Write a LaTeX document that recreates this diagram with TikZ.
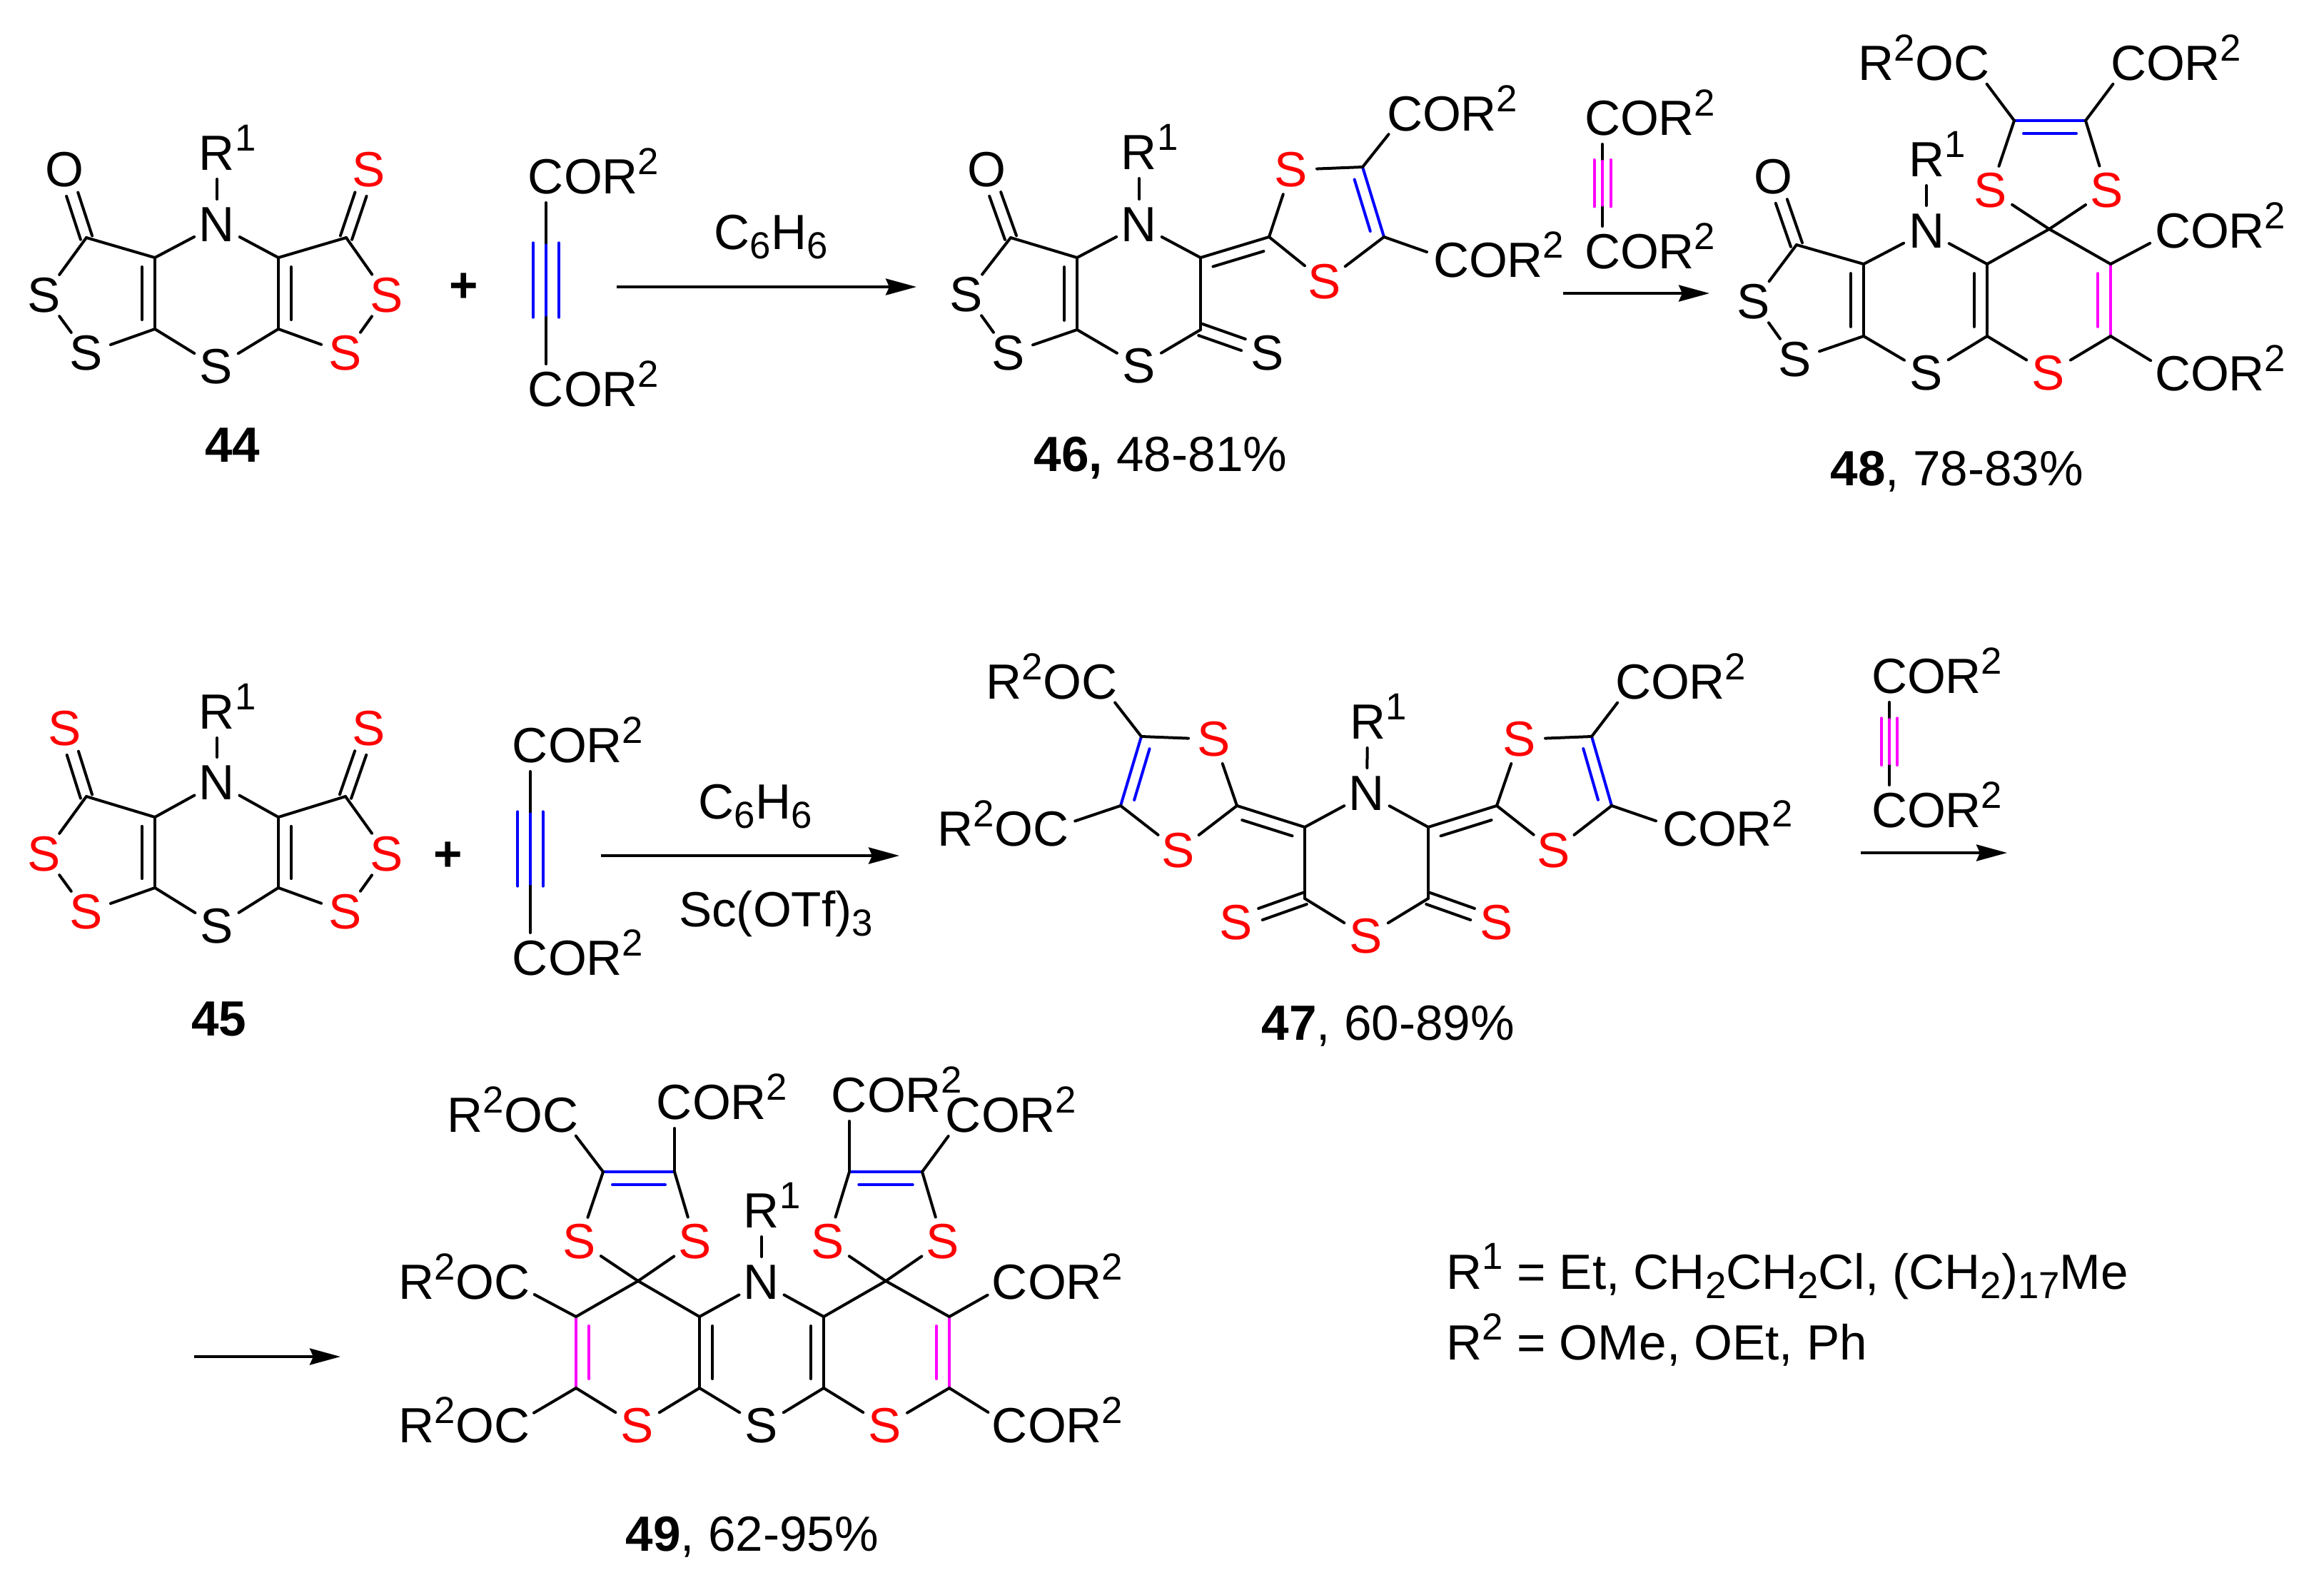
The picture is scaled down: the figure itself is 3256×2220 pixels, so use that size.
\documentclass[tikz,border=0pt]{standalone}
\usepackage{fontspec}
\setmainfont{Liberation Sans}
\usetikzlibrary{calc}
\usetikzlibrary{arrows.meta}
\definecolor{atomRed}{RGB}{255,0,0}
\definecolor{bondBlue}{RGB}{0,0,255}
\definecolor{bondMagenta}{RGB}{255,0,255}
\tikzstyle{scheme} = [x = .01cm, y = -.01cm, every node/.style={font=\fontsize{19.7}{23}\selectfont}]
\tikzstyle{atomText} = [circle, inner sep = 0pt, outer sep = 0pt, minimum size = .72cm]
\tikzstyle{redText} = [atomText, text=atomRed]
\tikzstyle{captionText} = [anchor = base, inner sep = 0pt]
\tikzstyle{sideText} = [anchor = base west, inner sep = 0pt]
\tikzstyle{bondLine} = [color=black, line width = .04cm, line cap = round]
\tikzstyle{blueBond} = [color=bondBlue, line width = .04cm, line cap = round]
\tikzstyle{magentaBond} = [color=bondMagenta, line width = .04cm, line cap = round]
\tikzstyle{reactionArrow} = [color=black, line width = .04cm, -{Stealth[length = .43cm, width = .23cm, inset = .05cm]}]
\newcommand{\sups}[1]{\smash{\raisebox{.4em}{\fontsize{15}{15}\selectfont #1}}}
\newcommand{\subs}[1]{\raisebox{-.2em}{\fontsize{15}{15}\selectfont #1}}
\newcommand{\carbon}[2]{\coordinate (#1) at (#2);}
\newcommand{\atom}[3]{\node [atomText] (#1) at (#2) {#3};}
\newcommand{\redAtom}[3]{\node [redText] (#1) at (#2) {#3};}
\newcommand{\rOne}[2]{\node [atomText] (#1) at (#2) {R\rlap{\sups{1}}};}
\newcommand{\cor}[2]{\node [atomText] (#1) at (#2) {C\rlap{OR\sups{2}}};}
\newcommand{\roc}[2]{\node [atomText] (#1) at (#2) {\llap{R\sups{2}O}C};}
\newcommand{\bond}[2]{\draw [bondLine] (#1) -- (#2);}
\newcommand{\doubleBond}[4]{
  \draw [#1] (#2) -- (#3);
  \draw [#1] ($(#2)!.13!(#3)!#4!90:(#3)$) -- ($(#3)!.13!(#2)!#4!-90:(#2)$);
}
\newcommand{\exoBond}[2]{
  \foreach \side in {.085cm,-.085cm} {
    \draw [bondLine] ($(#1)!\side!90:(#2)$) -- ($(#2)!.36cm!(#1)!\side!-90:(#1)$);
  }
}
\newcommand{\tripleBond}[4]{
  \draw [bondLine] (#2) -- (#3);
  \draw [#1] ($(#2)!.32!(#3)$) -- ($(#2)!.65!(#3)$);
  \foreach \side in {#4,-#4} {
    \draw [#1] ($(#2)!.31!(#3)!\side!90:(#3)$) -- ($(#2)!.66!(#3)!\side!90:(#3)$);
  }
}

\begin{document}
\begin{tikzpicture}[scheme]
  \useasboundingbox (0,0) rectangle (3256,2220);

  % 44
  \carbon{a44}{217,361} \carbon{b44}{217,461} \carbon{c44}{390,361}
  \carbon{d44}{390,461} \carbon{e44}{121,333} \carbon{f44}{485,333}
  \atom{o44}{90,238}{O}
  \redAtom{sTop44}{517,238}{S}
  \rOne{r44}{304,215}
  \atom{n44}{304,315}{N}
  \atom{sLeft44}{62,414}{S}
  \atom{sLow44}{121,495}{S}
  \atom{sBot44}{303,514}{S}
  \redAtom{sRight44}{542,414}{S}
  \redAtom{sRLow44}{484,495}{S}
  \doubleBond{bondLine}{a44}{b44}{-.18cm}
  \doubleBond{bondLine}{c44}{d44}{.18cm}
  \bond{r44}{n44} \bond{e44}{a44} \bond{a44}{n44} \bond{n44}{c44} \bond{c44}{f44}
  \bond{f44}{sRight44} \bond{sRight44}{sRLow44} \bond{sRLow44}{d44}
  \bond{d44}{sBot44} \bond{sBot44}{b44} \bond{b44}{sLow44}
  \bond{sLow44}{sLeft44} \bond{sLeft44}{e44}
  \exoBond{e44}{o44}
  \exoBond{f44}{sTop44}
  \node [captionText] (name44) at (326,647) {\textbf{44}};

  \node (plusTop) at (650,403) {\textbf{+}};
  \cor{corA}{765,248}
  \cor{corB}{765,546}
  \tripleBond{blueBond}{corA}{corB}{.18cm}

  \coordinate (arrowAStart) at (864,402);
  \coordinate (arrowAEnd) at (1284,402);
  \draw [reactionArrow] (arrowAStart) -- (arrowAEnd);
  \node [captionText] (solventA) at (1080,349) {C\subs{6}H\subs{6}};

  % 46
  \carbon{a46}{1509,361} \carbon{b46}{1509,462} \carbon{c46}{1682,361}
  \carbon{d46}{1682,462} \carbon{e46}{1416,333} \carbon{f46}{1778,332}
  \carbon{g46}{1909,234} \carbon{h46}{1939,332}
  \atom{o46}{1382,238}{O}
  \rOne{r46}{1596,214}
  \atom{n46}{1596,315}{N}
  \atom{sLeft46}{1354,413}{S}
  \atom{sLow46}{1413,495}{S}
  \atom{sBot46}{1596,513}{S}
  \atom{sExo46}{1776,495}{S}
  \redAtom{sUp46}{1809,238}{S}
  \redAtom{sDown46}{1856,395}{S}
  \cor{corTop46}{1968,160}
  \cor{corLow46}{2033,365}
  \doubleBond{bondLine}{a46}{b46}{-.18cm}
  \doubleBond{bondLine}{c46}{f46}{-.17cm}
  \doubleBond{blueBond}{g46}{h46}{-.16cm}
  \bond{r46}{n46} \bond{e46}{a46} \bond{a46}{n46} \bond{n46}{c46} \bond{c46}{d46}
  \bond{d46}{sBot46} \bond{sBot46}{b46} \bond{b46}{sLow46}
  \bond{sLow46}{sLeft46} \bond{sLeft46}{e46}
  \bond{f46}{sUp46} \bond{sUp46}{g46} \bond{h46}{sDown46} \bond{sDown46}{f46}
  \bond{g46}{corTop46} \bond{h46}{corLow46}
  \exoBond{e46}{o46}
  \exoBond{d46}{sExo46}
  \node [captionText] (name46) at (1626,660) {\textbf{46,} 48-81\%};

  \cor{corC}{2245,166}
  \cor{corD}{2245,353}
  \tripleBond{magentaBond}{corC}{corD}{.115cm}
  \coordinate (arrowBStart) at (2190,411);
  \coordinate (arrowBEnd) at (2395,411);
  \draw [reactionArrow] (arrowBStart) -- (arrowBEnd);

  % 48
  \carbon{a48}{2611,370} \carbon{b48}{2611,471} \carbon{c48}{2784,370}
  \carbon{d48}{2784,471} \carbon{e48}{2517,343} \carbon{h48}{2957,370}
  \carbon{i48}{2957,471} \carbon{j48}{2822,169} \carbon{k48}{2922,169}
  \carbon{spiro48}{2871,321}
  \atom{o48}{2484,248}{O}
  \rOne{r48}{2699,224}
  \atom{n48}{2699,324}{N}
  \atom{sLeft48}{2457,423}{S}
  \atom{sLow48}{2515,504}{S}
  \atom{sBot48}{2699,523}{S}
  \redAtom{sRed48}{2870,523}{S}
  \redAtom{sUl48}{2789,267}{S}
  \redAtom{sUr48}{2952,267}{S}
  \roc{rocTop48}{2762,89}
  \cor{corTop48}{2982,89}
  \cor{corUp48}{3044,324}
  \cor{corLow48}{3044,524}
  \doubleBond{bondLine}{a48}{b48}{-.18cm}
  \doubleBond{bondLine}{c48}{d48}{-.18cm}
  \doubleBond{magentaBond}{h48}{i48}{-.18cm}
  \doubleBond{blueBond}{j48}{k48}{-.18cm}
  \bond{r48}{n48} \bond{e48}{a48} \bond{a48}{n48} \bond{n48}{c48}
  \bond{c48}{spiro48} \bond{spiro48}{h48} \bond{i48}{sRed48} \bond{sRed48}{d48}
  \bond{d48}{sBot48} \bond{sBot48}{b48} \bond{b48}{sLow48}
  \bond{sLow48}{sLeft48} \bond{sLeft48}{e48}
  \bond{spiro48}{sUl48} \bond{spiro48}{sUr48} \bond{sUl48}{j48} \bond{sUr48}{k48}
  \bond{j48}{rocTop48} \bond{k48}{corTop48} \bond{h48}{corUp48} \bond{i48}{corLow48}
  \exoBond{e48}{o48}
  \node [captionText] (name48) at (2742,680) {\textbf{48}, 78-83\%};

  % 45
  \carbon{a45}{217,1145} \carbon{b45}{217,1244} \carbon{c45}{390,1145}
  \carbon{d45}{390,1244} \carbon{e45}{121,1116} \carbon{f45}{484,1116}
  \redAtom{sExoL45}{91,1021}{S}
  \redAtom{sExoR45}{517,1021}{S}
  \rOne{r45}{304,998}
  \atom{n45}{304,1097}{N}
  \redAtom{sLeft45}{62,1197}{S}
  \redAtom{sLow45}{121,1278}{S}
  \atom{sBot45}{304,1298}{S}
  \redAtom{sRight45}{542,1197}{S}
  \redAtom{sRLow45}{484,1278}{S}
  \doubleBond{bondLine}{a45}{b45}{-.18cm}
  \doubleBond{bondLine}{c45}{d45}{.18cm}
  \bond{r45}{n45} \bond{e45}{a45} \bond{a45}{n45} \bond{n45}{c45} \bond{c45}{f45}
  \bond{f45}{sRight45} \bond{sRight45}{sRLow45} \bond{sRLow45}{d45}
  \bond{d45}{sBot45} \bond{sBot45}{b45} \bond{b45}{sLow45}
  \bond{sLow45}{sLeft45} \bond{sLeft45}{e45}
  \exoBond{e45}{sExoL45}
  \exoBond{f45}{sExoR45}
  \node [captionText] (name45) at (307,1451) {\textbf{45}};

  \node (plusLow) at (628,1200) {\textbf{+}};
  \cor{corE}{743,1045}
  \cor{corF}{743,1343}
  \tripleBond{blueBond}{corE}{corF}{.175cm}

  \coordinate (arrowCStart) at (842,1199);
  \coordinate (arrowCEnd) at (1260,1199);
  \draw [reactionArrow] (arrowCStart) -- (arrowCEnd);
  \node [captionText] (solventB) at (1058,1147) {C\subs{6}H\subs{6}};
  \node [captionText] (catalyst) at (1087,1298) {Sc(OTf)\subs{3}};

  % 47
  \carbon{a47}{1828,1159} \carbon{b47}{1828,1259} \carbon{c47}{2001,1159}
  \carbon{d47}{2001,1259} \carbon{f47}{1733,1129} \carbon{g47}{1599,1032}
  \carbon{h47}{1570,1129} \carbon{p47}{2097,1129} \carbon{q47}{2230,1032}
  \carbon{t47}{2258,1129}
  \rOne{r47}{1916,1012}
  \atom{n47}{1915,1112}{N}
  \redAtom{sBot47}{1914,1312}{S}
  \redAtom{sExoL47}{1732,1293}{S}
  \redAtom{sExoR47}{2097,1293}{S}
  \redAtom{sUpL47}{1701,1036}{S}
  \redAtom{sDownL47}{1651,1192}{S}
  \redAtom{sUpR47}{2129,1036}{S}
  \redAtom{sDownR47}{2177,1192}{S}
  \roc{rocUp47}{1540,956}
  \roc{rocLow47}{1472,1162}
  \cor{corUp47}{2288,956}
  \cor{corLow47}{2354,1162}
  \doubleBond{bondLine}{a47}{f47}{.17cm}
  \doubleBond{bondLine}{c47}{p47}{-.17cm}
  \doubleBond{blueBond}{g47}{h47}{.16cm}
  \doubleBond{blueBond}{q47}{t47}{-.16cm}
  \bond{r47}{n47} \bond{a47}{n47} \bond{n47}{c47} \bond{a47}{b47} \bond{c47}{d47}
  \bond{b47}{sBot47} \bond{sBot47}{d47}
  \bond{f47}{sUpL47} \bond{sUpL47}{g47} \bond{h47}{sDownL47} \bond{sDownL47}{f47}
  \bond{p47}{sUpR47} \bond{sUpR47}{q47} \bond{t47}{sDownR47} \bond{sDownR47}{p47}
  \bond{g47}{rocUp47} \bond{h47}{rocLow47} \bond{q47}{corUp47} \bond{t47}{corLow47}
  \exoBond{b47}{sExoL47}
  \exoBond{d47}{sExoR47}
  \node [captionText] (name47) at (1945,1457) {\textbf{47}, 60-89\%};

  \cor{corG}{2647,948}
  \cor{corH}{2647,1136}
  \tripleBond{magentaBond}{corG}{corH}{.11cm}
  \coordinate (arrowDStart) at (2607,1195);
  \coordinate (arrowDEnd) at (2812,1195);
  \draw [reactionArrow] (arrowDStart) -- (arrowDEnd);

  \coordinate (arrowEStart) at (272,1901);
  \coordinate (arrowEEnd) at (477,1901);
  \draw [reactionArrow] (arrowEStart) -- (arrowEEnd);

  % 49
  \carbon{a49}{807,1845} \carbon{b49}{807,1945} \carbon{c49}{980,1845}
  \carbon{d49}{980,1945} \carbon{e49}{1154,1845} \carbon{f49}{1154,1945}
  \carbon{g49}{1330,1845} \carbon{h49}{1330,1945}
  \carbon{spiroL49}{894,1795} \carbon{spiroR49}{1241,1795}
  \carbon{p49}{845,1642} \carbon{q49}{945,1642} \carbon{u49}{1190,1642} \carbon{v49}{1292,1642}
  \rOne{r49}{1067,1697}
  \atom{n49}{1067,1797}{N}
  \redAtom{sBotL49}{893,1998}{S}
  \atom{sBot49}{1067,1998}{S}
  \redAtom{sBotR49}{1240,1998}{S}
  \redAtom{sUa49}{812,1740}{S}
  \redAtom{sUb49}{974,1740}{S}
  \redAtom{sUc49}{1160,1740}{S}
  \redAtom{sUd49}{1321,1740}{S}
  \roc{rocTop49}{785,1563}
  \cor{corTopL49}{945,1545}
  \cor{corTopR49}{1190,1535}
  \cor{corTopE49}{1350,1563}
  \roc{rocMid49}{717,1797}
  \roc{rocLow49}{717,1998}
  \cor{corMid49}{1415,1797}
  \cor{corLow49}{1415,1998}
  \doubleBond{magentaBond}{a49}{b49}{.18cm}
  \doubleBond{bondLine}{c49}{d49}{.18cm}
  \doubleBond{bondLine}{e49}{f49}{-.18cm}
  \doubleBond{magentaBond}{g49}{h49}{-.18cm}
  \doubleBond{blueBond}{p49}{q49}{-.18cm}
  \doubleBond{blueBond}{u49}{v49}{-.18cm}
  \bond{r49}{n49} \bond{a49}{spiroL49} \bond{spiroL49}{c49} \bond{c49}{n49}
  \bond{n49}{e49} \bond{e49}{spiroR49} \bond{spiroR49}{g49}
  \bond{b49}{sBotL49} \bond{sBotL49}{d49} \bond{d49}{sBot49}
  \bond{sBot49}{f49} \bond{f49}{sBotR49} \bond{sBotR49}{h49}
  \bond{spiroL49}{sUa49} \bond{spiroL49}{sUb49} \bond{sUa49}{p49} \bond{sUb49}{q49}
  \bond{spiroR49}{sUc49} \bond{spiroR49}{sUd49} \bond{sUc49}{u49} \bond{sUd49}{v49}
  \bond{p49}{rocTop49} \bond{q49}{corTopL49} \bond{u49}{corTopR49} \bond{v49}{corTopE49}
  \bond{a49}{rocMid49} \bond{b49}{rocLow49} \bond{g49}{corMid49} \bond{h49}{corLow49}
  \node [captionText] (name49) at (1054,2173) {\textbf{49}, 62-95\%};

  \node [sideText] (sideOne) at (2026,1806) {R\sups{1} = Et, CH\subs{2}CH\subs{2}Cl, (CH\subs{2})\subs{17}Me};
  \node [sideText] (sideTwo) at (2026,1905) {R\sups{2} = OMe, OEt, Ph};
\end{tikzpicture}
\end{document}
